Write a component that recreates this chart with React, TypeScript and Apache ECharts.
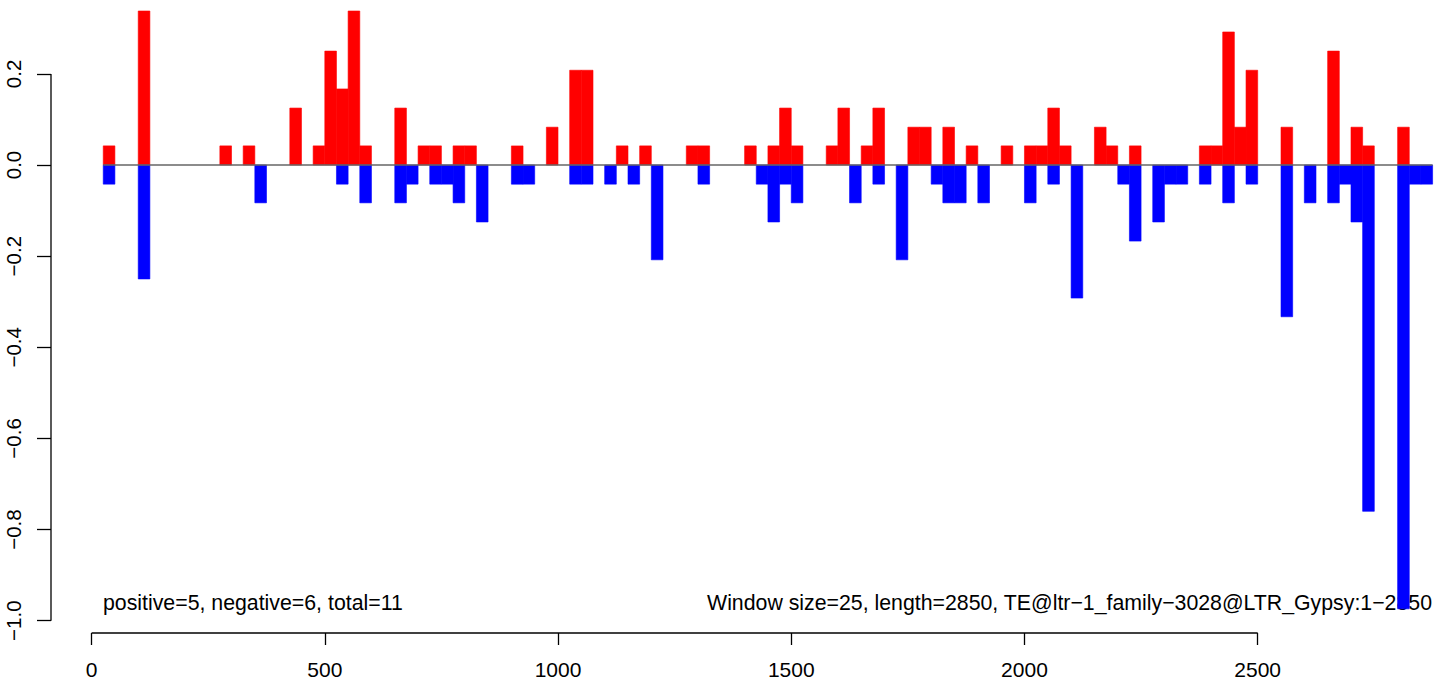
import React, { useEffect, useRef } from "react";
import * as echarts from "echarts";

// window k (1..114) spans [25k, 25k+25]
const windowSize = 25;
const windowCount = 114;

// positive scores per window (k = 1..114)
const positiveValues = [
  0.042, 0, 0, 0.375, 0, 0, 0, 0, 0, 0,
  0.042, 0, 0.042, 0, 0, 0, 0.125, 0, 0.042, 0.25,
  0.167, 0.375, 0.042, 0, 0, 0.125, 0, 0.042, 0.042, 0,
  0.042, 0.042, 0, 0, 0, 0.042, 0, 0, 0.083, 0,
  0.208, 0.208, 0, 0, 0.042, 0, 0.042, 0, 0, 0,
  0.042, 0.042, 0, 0, 0, 0.042, 0, 0.042, 0.125, 0.042,
  0, 0, 0.042, 0.125, 0, 0.042, 0.125, 0, 0, 0.083,
  0.083, 0, 0.083, 0, 0.042, 0, 0, 0.042, 0, 0.042,
  0.042, 0.125, 0.042, 0, 0, 0.083, 0.042, 0, 0.042, 0,
  0, 0, 0, 0, 0.042, 0.042, 0.292, 0.083, 0.208, 0,
  0, 0.083, 0, 0, 0, 0.25, 0, 0.083, 0.042, 0,
  0, 0.083, 0, 0,
];

// negative scores per window (k = 1..114)
const negativeValues = [
  -0.042, 0, 0, -0.25, 0, 0, 0, 0, 0, 0,
  0, 0, 0, -0.083, 0, 0, 0, 0, 0, 0,
  -0.042, 0, -0.083, 0, 0, -0.083, -0.042, 0, -0.042, -0.042,
  -0.083, 0, -0.125, 0, 0, -0.042, -0.042, 0, 0, 0,
  -0.042, -0.042, 0, -0.042, 0, -0.042, 0, -0.208, 0, 0,
  0, -0.042, 0, 0, 0, 0, -0.042, -0.125, -0.042, -0.083,
  0, 0, 0, 0, -0.083, 0, -0.042, 0, -0.208, 0,
  0, -0.042, -0.083, -0.083, 0, -0.083, 0, 0, 0, -0.083,
  0, -0.042, 0, -0.292, 0, 0, 0, -0.042, -0.167, 0,
  -0.125, -0.042, -0.042, 0, -0.042, 0, -0.083, 0, -0.042, 0,
  0, -0.333, 0, -0.083, 0, -0.083, -0.042, -0.125, -0.76, 0,
  0, -0.974, -0.042, -0.042,
];

const xTicks = [0, 500, 1000, 1500, 2000, 2500];
const yTicks = [-1.0, -0.8, -0.6, -0.4, -0.2, 0.0, 0.2];
const xRange = [-87, 2893];
const yRange = [-1.027, 0.338];

const summaryText = "positive=5, negative=6, total=11";
const infoText =
  "Window size=25, length=2850, TE@ltr\u22121_family\u22123028@LTR_Gypsy:1\u22122850";

const FONT = '"Liberation Sans", Arial, Helvetica, sans-serif';

function toBars(values: number[]) {
  const out: number[][] = [];
  values.forEach((v, j) => {
    if (v !== 0) {
      const k = j + 1;
      out.push([k * windowSize, (k + 1) * windowSize, v]);
    }
  });
  return out;
}

function makeRender(color: string) {
  return (params: any, api: any) => {
    const x0 = api.value(0);
    const x1 = api.value(1);
    const v = api.value(2);
    const p0 = api.coord([x0, v]);
    const p1 = api.coord([x1, 0]);
    const rect = echarts.graphic.clipRectByRect(
      {
        x: p0[0],
        y: Math.min(p0[1], p1[1]),
        width: p1[0] - p0[0],
        height: Math.abs(p1[1] - p0[1]),
      },
      {
        x: params.coordSys.x,
        y: params.coordSys.y,
        width: params.coordSys.width,
        height: params.coordSys.height,
      }
    );
    if (!rect) return null;
    return {
      type: "rect",
      shape: rect,
      style: { fill: color, stroke: color, lineWidth: 0.6 },
    };
  };
}

export default function App() {
  const ref = useRef<HTMLDivElement>(null);

  useEffect(() => {
    if (!ref.current) return;
    const chart = echarts.init(ref.current, null, { renderer: "svg" });
    const firstStart = windowSize;
    const lastEnd = (windowCount + 1) * windowSize;
    const option: any = {
      animation: false,
      backgroundColor: "#ffffff",
      grid: { left: 51, right: 8, top: 11, bottom: 47, containLabel: false },
      xAxis: {
        type: "value",
        min: xRange[0],
        max: xRange[1],
        axisLine: { show: false, onZero: false },
        splitLine: { show: false },
        axisTick: {
          show: true,
          length: 12,
          customValues: xTicks,
          lineStyle: { color: "#000", width: 1.3 },
        },
        axisLabel: {
          customValues: xTicks,
          margin: 26,
          fontSize: 21,
          fontFamily: FONT,
          color: "#000",
          formatter: (v: number) => String(v),
        },
      },
      yAxis: {
        type: "value",
        min: yRange[0],
        max: yRange[1],
        axisLine: { show: false, onZero: false },
        splitLine: { show: false },
        axisTick: {
          show: true,
          length: 14,
          customValues: yTicks,
          lineStyle: { color: "#000", width: 1.3 },
        },
        axisLabel: {
          customValues: yTicks,
          rotate: 90,
          margin: 27,
          fontSize: 20.5,
          fontFamily: FONT,
          color: "#000",
          formatter: (v: number) => v.toFixed(1).replace("-", "\u2212"),
        },
      },
      graphic: [
        {
          type: "text",
          z: 0,
          x: 103,
          y: 603,
          style: {
            text: summaryText,
            font: `21.3px ${FONT}`,
            fill: "#000",
            textAlign: "left",
            textVerticalAlign: "middle",
          },
        },
        {
          type: "text",
          z: 0,
          x: 1432,
          y: 603,
          style: {
            text: infoText,
            font: `21.3px ${FONT}`,
            fill: "#000",
            textAlign: "right",
            textVerticalAlign: "middle",
          },
        },
      ],
      series: [
        {
          type: "custom",
          name: "positive",
          z: 3,
          renderItem: makeRender("#ff0000"),
          encode: { x: [0, 1], y: 2 },
          data: toBars(positiveValues),
        },
        {
          type: "custom",
          name: "negative",
          z: 3,
          renderItem: makeRender("#0000ff"),
          encode: { x: [0, 1], y: 2 },
          data: toBars(negativeValues),
        },
        {
          type: "line",
          name: "zero",
          z: 5,
          symbol: "none",
          silent: true,
          lineStyle: { color: "#666666", width: 1.5 },
          data: [
            [firstStart, 0],
            [lastEnd, 0],
          ],
        },
        {
          type: "line",
          name: "xaxisline",
          z: 5,
          clip: false,
          symbol: "none",
          silent: true,
          lineStyle: { color: "#000", width: 1.3 },
          data: [
            [xTicks[0], yRange[0]],
            [xTicks[xTicks.length - 1], yRange[0]],
          ],
        },
        {
          type: "line",
          name: "yaxisline",
          z: 5,
          clip: false,
          symbol: "none",
          silent: true,
          lineStyle: { color: "#000", width: 1.3 },
          data: [
            [xRange[0], yTicks[0]],
            [xRange[0], yTicks[yTicks.length - 1]],
          ],
        },
      ],
    };
    chart.setOption(option);
    return () => chart.dispose();
  }, []);

  return (
    <div
      ref={ref}
      style={{
        position: "fixed",
        left: 0,
        top: 0,
        width: 1449,
        height: 680,
        background: "#fff",
      }}
    />
  );
}
